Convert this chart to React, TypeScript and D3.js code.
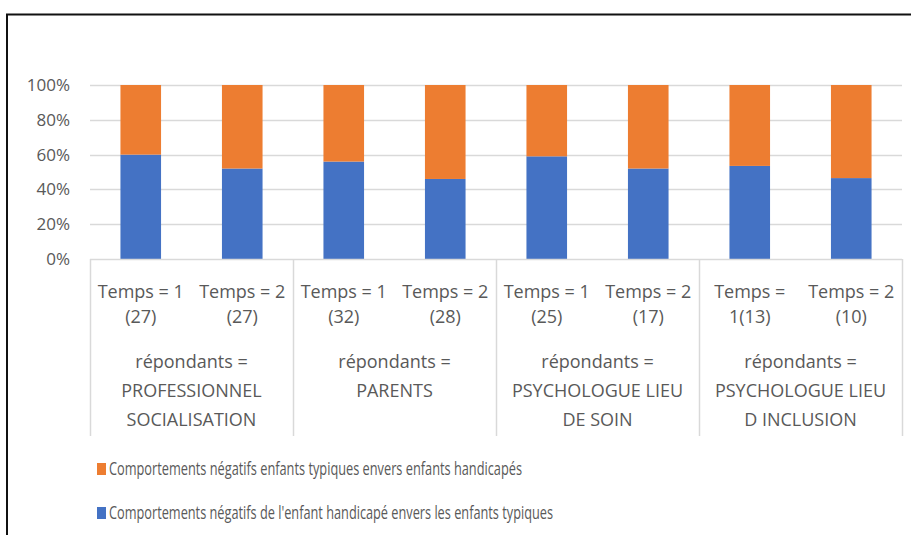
import * as d3 from 'd3';
import React, { useEffect } from 'react';

const timeLabels = [
  ['Temps = 1', '(27)'],
  ['Temps = 2', '(27)'],
  ['Temps = 1', '(32)'],
  ['Temps = 2', '(28)'],
  ['Temps = 1', '(25)'],
  ['Temps = 2', '(17)'],
  ['Temps =', '1(13)'],
  ['Temps = 2', '(10)'],
];
const groupLabels = [
  ['répondants =', 'PROFESSIONNEL', 'SOCIALISATION'],
  ['répondants =', 'PARENTS'],
  ['répondants =', 'PSYCHOLOGUE LIEU', 'DE SOIN'],
  ['répondants =', 'PSYCHOLOGUE LIEU', 'D INCLUSION'],
];
const blueValues = [0.6, 0.52, 0.56, 0.46, 0.59, 0.52, 0.535, 0.465];
const orangeValues = [0.4, 0.48, 0.44, 0.54, 0.41, 0.48, 0.465, 0.535];
const seriesNames = [
  "Comportements négatifs de l'enfant handicapé envers les enfants typiques",
  'Comportements négatifs enfants typiques envers enfants handicapés',
];
const yTicks = [0, 0.2, 0.4, 0.6, 0.8, 1];

export default function App() {
  const ref = React.useRef<SVGSVGElement>(null);

  useEffect(() => {
    if (!ref.current) return;
    const svg = d3.select(ref.current);
    svg.selectAll('*').remove();

    const font = "'Open Sans', sans-serif";
    const textColor = '#595959';
    const left = 90;
    const right = 902;
    const top = 85;
    const bottom = 259;

    const x = d3
      .scaleBand<number>()
      .domain(d3.range(timeLabels.length))
      .range([left, right])
      .paddingInner(0.6)
      .paddingOuter(0.3);
    const y = d3.scaleLinear().domain([0, 1]).range([bottom, top]);

    // frame
    svg
      .append('rect')
      .attr('x', 7)
      .attr('y', 14.5)
      .attr('width', 940)
      .attr('height', 560)
      .attr('fill', 'white')
      .attr('stroke', '#111')
      .attr('stroke-width', 2);

    // gridlines
    svg
      .append('g')
      .selectAll('line')
      .data(yTicks.slice(1))
      .enter()
      .append('line')
      .attr('x1', left)
      .attr('x2', right)
      .attr('y1', d => Math.round(y(d)) + 0.5)
      .attr('y2', d => Math.round(y(d)) + 0.5)
      .attr('stroke', '#d9d9d9')
      .attr('stroke-width', 1.5);

    // y tick labels
    svg
      .append('g')
      .selectAll('text')
      .data(yTicks)
      .enter()
      .append('text')
      .attr('x', 70)
      .attr('y', d => y(d))
      .attr('dy', '0.35em')
      .attr('text-anchor', 'end')
      .attr('font-family', font)
      .attr('font-size', 17)
      .attr('fill', textColor)
      .text(d => d3.format('.0%')(d));

    // stacked bars
    const stack = timeLabels.map((_, i) => ({
      i,
      blue: blueValues[i],
      orange: orangeValues[i],
    }));
    const bars = svg.append('g');
    bars
      .selectAll('rect.blue')
      .data(stack)
      .enter()
      .append('rect')
      .attr('class', 'blue')
      .attr('x', d => x(d.i) as number)
      .attr('width', x.bandwidth())
      .attr('y', d => y(d.blue))
      .attr('height', d => y(0) - y(d.blue))
      .attr('fill', '#4472c4');
    bars
      .selectAll('rect.orange')
      .data(stack)
      .enter()
      .append('rect')
      .attr('class', 'orange')
      .attr('x', d => x(d.i) as number)
      .attr('width', x.bandwidth())
      .attr('y', d => y(d.blue + d.orange))
      .attr('height', d => y(d.blue) - y(d.blue + d.orange))
      .attr('fill', '#ed7d31');

    // x axis line and group separators
    const axisG = svg.append('g').attr('stroke', '#d9d9d9').attr('stroke-width', 1.5);
    axisG
      .append('line')
      .attr('x1', left)
      .attr('x2', right)
      .attr('y1', bottom + 0.5)
      .attr('y2', bottom + 0.5);
    const step = x.step();
    const sepX = d3.range(groupLabels.length + 1).map(g => left + g * 2 * step);
    axisG
      .selectAll('line.sep')
      .data(sepX)
      .enter()
      .append('line')
      .attr('class', 'sep')
      .attr('x1', d => Math.round(d) + 0.5)
      .attr('x2', d => Math.round(d) + 0.5)
      .attr('y1', bottom)
      .attr('y2', 436);

    // inner category labels
    const catG = svg
      .append('g')
      .attr('font-family', font)
      .attr('font-size', 18)
      .attr('fill', textColor)
      .attr('text-anchor', 'middle');
    timeLabels.forEach((lines, i) => {
      const cx = (x(i) as number) + x.bandwidth() / 2;
      lines.forEach((line, j) => {
        catG
          .append('text')
          .attr('x', cx)
          .attr('y', 298 + j * 25)
          .text(line);
      });
    });

    // group labels
    groupLabels.forEach((lines, g) => {
      const cx = left + (g * 2 + 1) * step;
      lines.forEach((line, j) => {
        catG
          .append('text')
          .attr('x', cx)
          .attr('y', 368 + j * 29)
          .text(line);
      });
    });

    // legend (orange first)
    const legendItems = [
      { name: seriesNames[1], color: '#ed7d31', y: 469, w: 413 },
      { name: seriesNames[0], color: '#4472c4', y: 513, w: 444 },
    ];
    const legend = svg
      .selectAll('.legend')
      .data(legendItems)
      .enter()
      .append('g')
      .attr('class', 'legend')
      .attr('transform', d => `translate(97,${d.y})`);
    legend
      .append('rect')
      .attr('x', 0)
      .attr('y', -6)
      .attr('width', 9)
      .attr('height', 12)
      .attr('fill', d => d.color);
    legend
      .append('text')
      .attr('x', 12)
      .attr('dy', '0.35em')
      .attr('font-family', font)
      .attr('font-size', 18.5)
      .attr('fill', textColor)
      .attr('textLength', d => d.w)
      .attr('lengthAdjust', 'spacingAndGlyphs')
      .text(d => d.name);
  }, []);

  return (
    <svg
      ref={ref}
      width={911}
      height={535}
      style={{ position: 'absolute', left: 0, top: 0, background: 'white' }}
    />
  );
}
